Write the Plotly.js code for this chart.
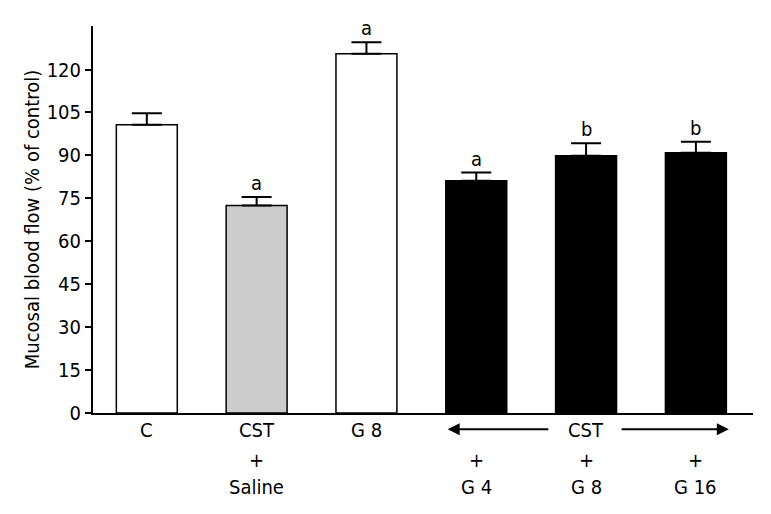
<!DOCTYPE html>
<html>
<head>
<meta charset="utf-8">
<script src="https://cdn.plot.ly/plotly-3.0.1.min.js"></script>
<style>html,body{margin:0;padding:0;background:#fff;}#chart{width:771px;height:514px;}</style>
</head>
<body>
<div id="chart"></div>
<script>
// Data
const categories = ["C", "CST + Saline", "G 8", "CST + G 4", "CST + G 8", "CST + G 16"];
const labelRow1 = ["C", "CST", "G 8", "", "CST", ""];
const labelRow2 = ["", "+", "", "+", "+", "+"];
const labelRow3 = ["", "Saline", "", "G 4", "G 8", "G 16"];
const values = [100.7, 72.5, 125.5, 81.1, 89.9, 90.9];
const errors = [4.0, 3.0, 4.0, 2.9, 4.3, 3.9];
const sigLetters = ["", "a", "a", "a", "b", "b"];
const barColors = ["#ffffff", "#cccccc", "#ffffff", "#000000", "#000000", "#000000"];
const yTicks = [0, 15, 30, 45, 60, 75, 90, 105, 120];
const arrowLeft = {head: 2.74, tail: 3.67};
const arrowRight = {head: 5.30, tail: 4.31};

const FONT = "'Liberation Sans Narrow', 'DejaVu Sans Condensed', 'Arial Narrow', sans-serif";
const xIdx = categories.map((_, i) => i);

const trace = {
  type: "bar",
  x: xIdx,
  y: values,
  width: 0.555,
  marker: {color: barColors, line: {color: "#000", width: 1.5}},
  error_y: {type: "data", array: errors, arrayminus: errors.map(() => 0), symmetric: false,
            color: "#000", thickness: 2, width: 15},
  hoverinfo: "none"
};

const annotations = [];
sigLetters.forEach((s, i) => {
  if (!s) return;
  annotations.push({
    x: i, y: values[i] + errors[i], xref: "x", yref: "y",
    text: s, showarrow: false, yanchor: "bottom", yshift: 0,
    font: {family: FONT, size: 20, color: "#000"}
  });
});
const rowY = [-0.044, -0.121, -0.191];
[labelRow1, labelRow2, labelRow3].forEach((row, r) => {
  row.forEach((t, i) => {
    if (!t) return;
    annotations.push({
      x: i, y: rowY[r], xref: "x", yref: "paper", text: t, showarrow: false,
      xanchor: "center", yanchor: "middle", font: {family: FONT, size: 20, color: "#000"}
    });
  });
});
[arrowLeft, arrowRight].forEach(a => {
  annotations.push({
    x: a.head, y: -0.042, xref: "x", yref: "paper",
    ax: a.tail, ay: 0, axref: "x", ayref: "pixel",
    text: "", showarrow: true, arrowhead: 2, arrowsize: 1.2, arrowwidth: 2, arrowcolor: "#000"
  });
});

const layout = {
  width: 771, height: 514,
  margin: {l: 93, r: 18, t: 26, b: 101},
  paper_bgcolor: "#fff", plot_bgcolor: "#fff",
  showlegend: false,
  font: {family: FONT, size: 20, color: "#000"},
  xaxis: {
    range: [-0.49, 5.52], tickmode: "array", tickvals: xIdx, showticklabels: false,
    showline: true, linecolor: "#000", linewidth: 2, ticks: "", showgrid: false, zeroline: false
  },
  yaxis: {
    range: [0, 135.2], tickmode: "array", tickvals: yTicks,
    showline: true, linecolor: "#000", linewidth: 2, ticks: "outside", ticklen: 6, tickwidth: 2, tickcolor: "#000",
    showgrid: false, zeroline: false, tickfont: {family: FONT, size: 20, color: "#000"},
    title: {text: "Mucosal blood flow (% of control)", font: {family: FONT, size: 20, color: "#000"}, standoff: 2}
  },
  annotations: annotations
};

Plotly.newPlot("chart", [trace], layout, {displayModeBar: false, staticPlot: true});
</script>
</body>
</html>
